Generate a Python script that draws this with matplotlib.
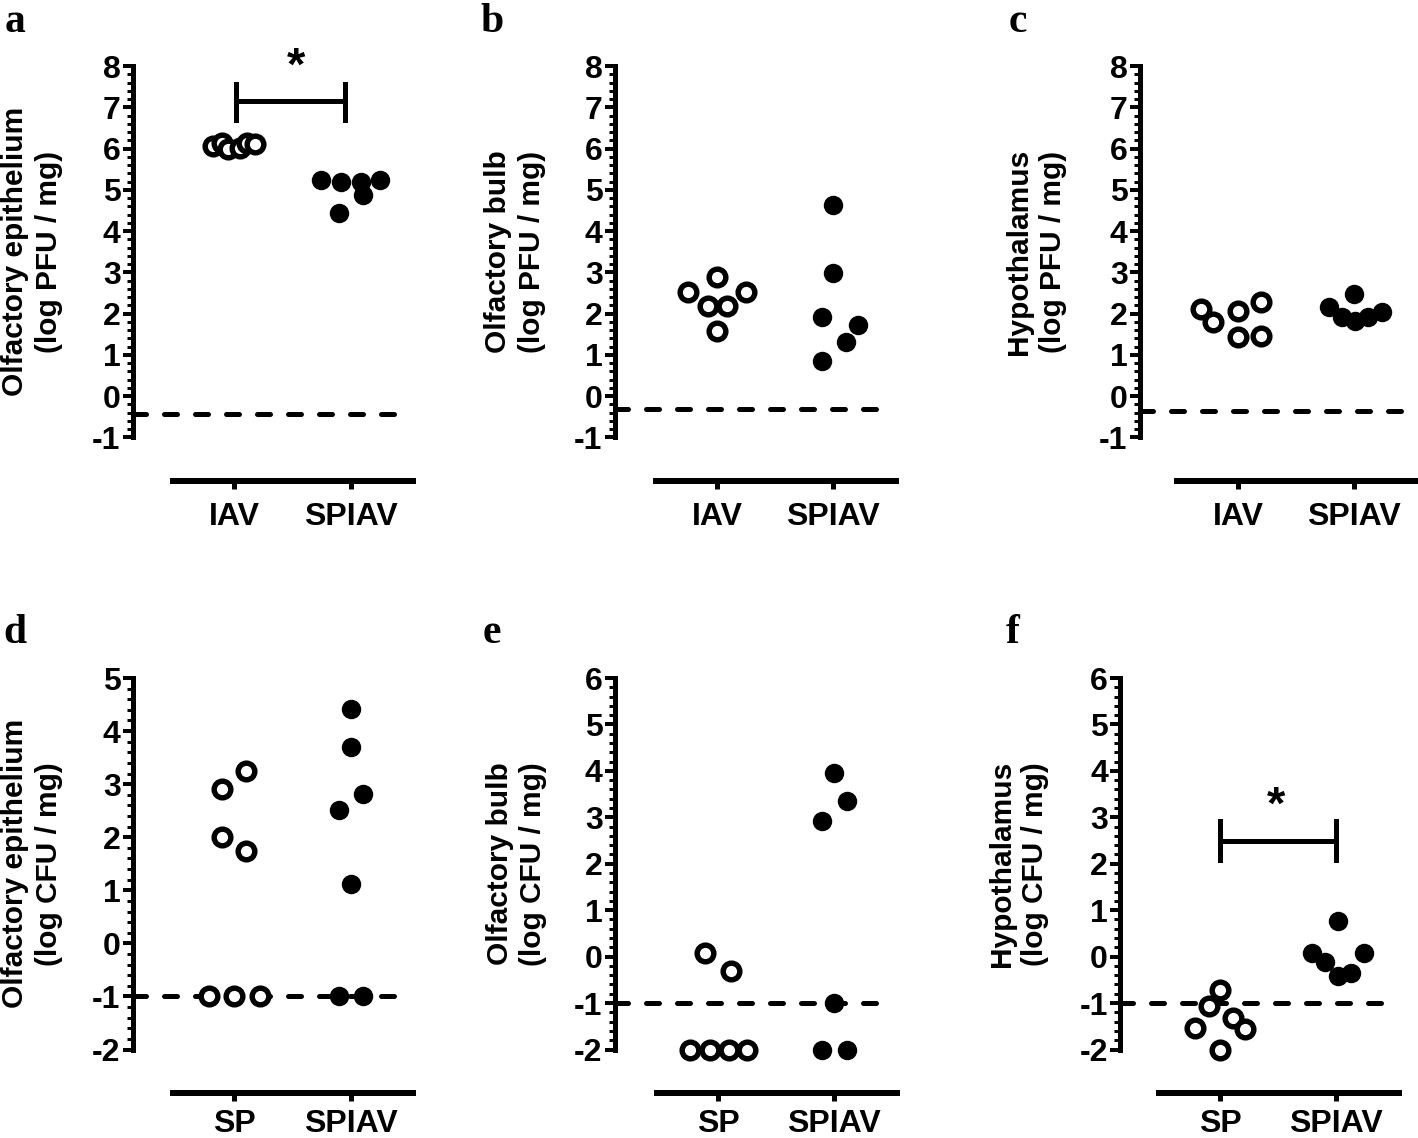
import matplotlib
matplotlib.use("Agg")
from matplotlib import pyplot as plt
from matplotlib import transforms
from matplotlib.ticker import MultipleLocator

plt.rcParams["font.family"] = ["Liberation Sans", "DejaVu Sans"]
plt.rcParams["font.weight"] = "bold"
plt.rcParams["axes.unicode_minus"] = False

# ---- data (log titres) ----
groups_top = ["IAV", "SPIAV"]
groups_bottom = ["SP", "SPIAV"]

a_iav_y = [6.06, 6.14, 5.98, 6.02, 6.14, 6.10]
a_iav_dx = [-0.18, -0.11, -0.05, 0.05, 0.11, 0.18]
a_spiav_y = [5.25, 5.20, 5.20, 5.23, 4.87, 4.44]
a_spiav_dx = [-0.25, -0.08, 0.09, 0.25, 0.11, -0.10]
a_lod = -0.42

b_iav_y = [2.52, 2.90, 2.52, 2.19, 2.19, 1.57]
b_iav_dx = [-0.25, 0.0, 0.25, -0.08, 0.08, 0.0]
b_spiav_y = [4.64, 2.99, 1.91, 1.73, 1.31, 0.86]
b_spiav_dx = [0.0, 0.0, -0.10, 0.21, 0.11, -0.10]
b_lod = -0.32

c_iav_y = [2.11, 1.79, 2.07, 1.43, 2.28, 1.47]
c_iav_dx = [-0.32, -0.22, 0.0, 0.0, 0.20, 0.20]
c_spiav_y = [2.17, 1.93, 2.47, 1.83, 1.93, 2.04]
c_spiav_dx = [-0.22, -0.11, 0.0, 0.01, 0.12, 0.24]
c_lod = -0.37

d_sp_y = [2.91, 3.24, 2.01, 1.74, -1.0, -1.0, -1.0]
d_sp_dx = [-0.11, 0.10, -0.11, 0.10, -0.22, 0.0, 0.22]
d_spiav_y = [4.41, 3.70, 2.81, 2.52, 1.11, -1.0, -1.0]
d_spiav_dx = [0.0, 0.0, 0.11, -0.10, 0.0, -0.10, 0.11]
d_lod = -1.0

e_sp_y = [0.08, -0.32, -2.0, -2.0, -2.0, -2.0]
e_sp_dx = [-0.11, 0.11, -0.24, -0.07, 0.09, 0.25]
e_spiav_y = [3.96, 3.36, 2.92, -1.0, -2.0, -2.0]
e_spiav_dx = [0.0, 0.11, -0.10, 0.0, -0.10, 0.11]
e_lod = -1.0

f_sp_y = [-0.72, -1.07, -1.33, -1.53, -1.55, -2.0]
f_sp_dx = [0.0, -0.10, 0.11, -0.22, 0.21, 0.0]
f_spiav_y = [0.76, 0.08, -0.11, 0.07, -0.41, -0.35]
f_spiav_dx = [0.01, -0.21, -0.10, 0.24, 0.01, 0.13]
f_lod = -1.0

W, H, DPI = 1418, 1138, 100
PT = 72.0 / DPI  # points per pixel


def px_rect(left, top, right, bottom):
    return [left / W, 1 - bottom / H, (right - left) / W, (bottom - top) / H]


def draw_panel(fig, rect, spine_gap, letter, letter_xy, ylabel, groups,
               open_y, open_dx, fill_y, fill_dx, lod, ylim, bracket=None,
               xpad=10):
    ax = fig.add_axes(rect)
    for s in ("top", "right"):
        ax.spines[s].set_visible(False)
    ax.spines["left"].set_position(("outward", spine_gap * PT))
    ax.spines["bottom"].set_position(("outward", 43 * PT))
    ax.spines["left"].set_linewidth(5 * PT)
    ax.spines["bottom"].set_linewidth(6 * PT)
    ax.spines["left"].set_capstyle("projecting")

    ax.set_xlim(-0.53, 1.54)
    ax.set_ylim(*ylim)
    ax.set_xticks([0, 1])
    ax.set_xticklabels(groups)
    ax.yaxis.set_major_locator(MultipleLocator(1))
    ax.yaxis.set_minor_locator(MultipleLocator(0.2))
    ax.tick_params(axis="x", length=8 * PT, width=5 * PT,
                   labelsize=23, pad=xpad)
    ax.tick_params(axis="y", which="major", length=10 * PT, width=4 * PT,
                   labelsize=23, pad=1.5)
    ax.tick_params(axis="y", which="minor", length=6 * PT, width=3 * PT)

    # limit of detection
    tr = transforms.blended_transform_factory(ax.transAxes, ax.transData)
    ax.plot([-spine_gap / 240.0, 0.9375], [lod, lod], transform=tr,
            color="black", lw=5 * PT, ls=(0, (2.6, 3.6)),
            dash_capstyle="round", clip_on=False, zorder=2)

    ax.plot([0 + d for d in open_dx], open_y, "o", ms=12, mew=3.9,
            mfc="white", mec="black", clip_on=False, zorder=3)
    ax.plot([1 + d for d in fill_dx], fill_y, "o", ms=14, mew=0,
            mfc="black", clip_on=False, zorder=3)

    if bracket is not None:
        x0, x1, yh, ylo, yhi, sx, sy = bracket
        lw = 5 * PT
        ax.plot([x0, x1], [yh, yh], color="black", lw=lw, clip_on=False)
        ax.plot([x0, x0], [ylo, yhi], color="black", lw=lw, clip_on=False)
        ax.plot([x1, x1], [ylo, yhi], color="black", lw=lw, clip_on=False)
        ax.annotate("*", xy=(sx, sy), xytext=(0, -0.57 * 34),
                    textcoords="offset points", ha="center", va="baseline",
                    fontsize=34, fontweight="bold", annotation_clip=False)

    ax.text(-0.585, 0.5, ylabel, transform=ax.transAxes, rotation=90,
            ha="center", va="center", fontsize=21.5, fontweight="bold",
            linespacing=1.25, multialignment="center")

    fig.text(letter_xy[0] / W, 1 - letter_xy[1] / H, letter,
             family="Liberation Serif", fontweight="bold", fontsize=30,
             ha="center", va="center")
    return ax


def main():
    fig = plt.figure(figsize=(W / DPI, H / DPI), dpi=DPI)

    top = (66, 437.5)
    bot = (678, 1049.5)

    draw_panel(fig, px_rect(172.7, top[0], 413.3, top[1]), 40, "a", (15, 22),
               "Olfactory epithelium\n(log PFU / mg)", groups_top,
               a_iav_y, a_iav_dx, a_spiav_y, a_spiav_dx, a_lod, (-1, 8),
               bracket=(0.015, 0.95, 7.15, 6.7, 7.57, 0.53, 8.32))
    draw_panel(fig, px_rect(655.7, top[0], 896.0, top[1]), 41, "b", (492, 22),
               "Olfactory bulb\n(log PFU / mg)", groups_top,
               b_iav_y, b_iav_dx, b_spiav_y, b_spiav_dx, b_lod, (-1, 8))
    draw_panel(fig, px_rect(1176.7, top[0], 1417.0, top[1]), 37, "c", (1018, 22),
               "Hypothalamus\n(log PFU / mg)", groups_top,
               c_iav_y, c_iav_dx, c_spiav_y, c_spiav_dx, c_lod, (-1, 8))
    draw_panel(fig, px_rect(172.7, bot[0], 413.3, bot[1]), 40, "d", (15, 633),
               "Olfactory epithelium\n(log CFU / mg)", groups_bottom,
               d_sp_y, d_sp_dx, d_spiav_y, d_spiav_dx, d_lod, (-2, 5),
               xpad=6)
    draw_panel(fig, px_rect(656.7, bot[0], 896.7, bot[1]), 42, "e", (492, 633),
               "Olfactory bulb\n(log CFU / mg)", groups_bottom,
               e_sp_y, e_sp_dx, e_spiav_y, e_spiav_dx, e_lod, (-2, 6),
               xpad=6)
    draw_panel(fig, px_rect(1159.0, bot[0], 1399.0, bot[1]), 39, "f", (1013, 633),
               "Hypothalamus\n(log CFU / mg)", groups_bottom,
               f_sp_y, f_sp_dx, f_spiav_y, f_spiav_dx, f_lod, (-2, 6),
               bracket=(0.0, 1.0, 2.49, 2.09, 2.91, 0.48, 3.55), xpad=6)

    fig.savefig("out.png", dpi=DPI)


if __name__ == "__main__":
    main()
